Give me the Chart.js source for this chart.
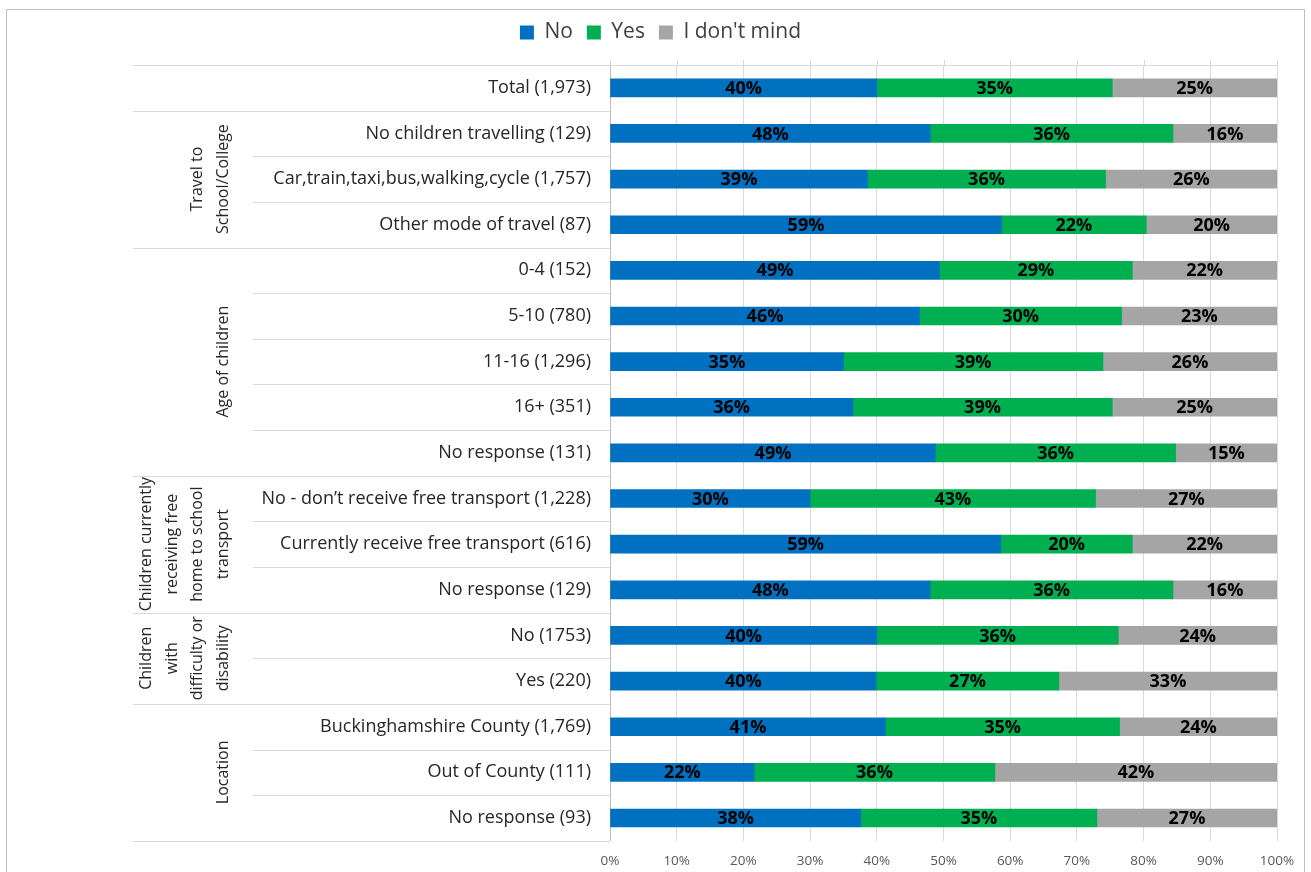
<!DOCTYPE html>
<html>
<head>
<meta charset="utf-8">
<title>Preference by group</title>
<script src="https://cdn.jsdelivr.net/npm/chart.js@4.4.1/dist/chart.umd.min.js"></script>
<style>
  html, body { margin: 0; padding: 0; background: #fff; }
  #wrap { width: 1311px; height: 872px; }
</style>
</head>
<body>
<div id="wrap"><canvas id="chart" width="1311" height="872"></canvas></div>
<script>
// Row labels, top to bottom
const categories = [
  "Total (1,973)",
  "No children travelling (129)",
  "Car,train,taxi,bus,walking,cycle (1,757)",
  "Other mode of travel (87)",
  "0-4 (152)",
  "5-10 (780)",
  "11-16 (1,296)",
  "16+ (351)",
  "No response (131)",
  "No - don\u2019t receive free transport (1,228)",
  "Currently receive free transport (616)",
  "No response (129)",
  "No (1753)",
  "Yes (220)",
  "Buckinghamshire County (1,769)",
  "Out of County (111)",
  "No response (93)"
];

// Outer grouping of the rows (lines of each rotated heading, and how many rows it spans)
const groupTitles = [
  [],
  ["Travel to", "School/College"],
  ["Age of children"],
  ["Children currently", "receiving free", "home to school", "transport"],
  ["Children", "with", "difficulty or", "disability"],
  ["Location"]
];
const groupSizes = [1, 3, 5, 3, 2, 3];

// Share of answers (%)
const noValues   = [40.0, 48.0, 38.6, 58.7, 49.4, 46.4, 35.0, 36.4, 48.8, 30.0, 58.6, 48.0, 40.0, 39.9, 41.3, 21.6, 37.6];
const yesValues  = [35.3, 36.4, 35.7, 21.7, 28.9, 30.3, 38.9, 38.9, 36.0, 42.8, 19.7, 36.4, 36.2, 27.4, 35.1, 36.1, 35.4];
const mindValues = [24.7, 15.6, 25.7, 19.6, 21.7, 23.3, 26.1, 24.7, 15.2, 27.2, 21.7, 15.6, 23.8, 32.7, 23.6, 42.3, 27.0];

const seriesNames = ["No", "Yes", "I don't mind"];
const xTicks = [0, 10, 20, 30, 40, 50, 60, 70, 80, 90, 100];

const FONT = "'Open Sans', Lato, sans-serif";
const LINE = "#d9d9d9";

// frame, row separators, rotated group headings and % labels
const decorations = {
  id: "decorations",
  afterInit(chart) {
    // leave a fixed band for the legend above the plot
    const legend = chart.legend;
    const fit = legend.fit;
    legend.fit = function () {
      fit.call(this);
      this.height = 57;
    };
  },
  beforeDraw(chart) {
    const ctx = chart.ctx;
    ctx.save();
    ctx.fillStyle = "#fff";
    ctx.fillRect(0, 0, chart.width, chart.height);
    ctx.strokeStyle = "#bfbfbf";
    ctx.lineWidth = 1;
    ctx.strokeRect(6.5, 9.5, chart.width - 13, chart.height + 10);
    ctx.restore();
  },
  afterDraw(chart) {
    const ctx = chart.ctx;
    const area = chart.chartArea;
    const y = chart.scales.y;
    const x = chart.scales.x;
    const rowH = (area.bottom - area.top) / categories.length;
    const outerLeft = 133;
    const innerLeft = 253;

    ctx.save();
    ctx.strokeStyle = LINE;
    ctx.lineWidth = 1;

    // little marks of the value grid above the plot
    xTicks.forEach(t => {
      const px = Math.round(x.getPixelForValue(t)) + 0.5;
      ctx.beginPath();
      ctx.moveTo(px, area.top - 5);
      ctx.lineTo(px, area.top);
      ctx.stroke();
    });

    // top rule runs across the plot too
    ctx.beginPath();
    ctx.moveTo(outerLeft, Math.round(area.top) + 0.5);
    ctx.lineTo(area.right, Math.round(area.top) + 0.5);
    ctx.stroke();

    let row = 0;
    groupSizes.forEach((size, g) => {
      for (let i = 1; i <= size; i++) {
        const by = Math.round(y.getPixelForValue(row + i - 1) + rowH / 2) + 0.5;
        const left = i === size ? outerLeft : innerLeft;
        ctx.beginPath();
        ctx.moveTo(left, by);
        ctx.lineTo(area.left, by);
        ctx.stroke();
      }
      const lines = groupTitles[g];
      if (lines.length) {
        const cy = (y.getPixelForValue(row) + y.getPixelForValue(row + size - 1)) / 2;
        ctx.save();
        ctx.fillStyle = "#262626";
        ctx.font = "16px " + FONT;
        ctx.textAlign = "center";
        ctx.textBaseline = "middle";
        lines.forEach((txt, k) => {
          const lx = 223 - (lines.length - 1 - k) * 25.5;
          ctx.save();
          ctx.translate(lx, cy);
          ctx.rotate(-Math.PI / 2);
          ctx.fillText(txt, 0, 0);
          ctx.restore();
        });
        ctx.restore();
      }
      row += size;
    });
    ctx.restore();
  },
  afterDatasetsDraw(chart) {
    const ctx = chart.ctx;
    ctx.save();
    ctx.fillStyle = "#000";
    ctx.font = "bold 18px " + FONT;
    ctx.textAlign = "center";
    ctx.textBaseline = "middle";
    chart.data.datasets.forEach((ds, i) => {
      chart.getDatasetMeta(i).data.forEach((bar, j) => {
        const p = bar.getProps(["x", "y", "base"], true);
        ctx.fillText(Math.round(ds.data[j]) + "%", (p.x + p.base) / 2, p.y + 1);
      });
    });
    ctx.restore();
  }
};

new Chart(document.getElementById("chart"), {
  type: "bar",
  data: {
    labels: categories,
    datasets: [
      { label: seriesNames[0], data: noValues,   backgroundColor: "#0070c0" },
      { label: seriesNames[1], data: yesValues,  backgroundColor: "#00b050" },
      { label: seriesNames[2], data: mindValues, backgroundColor: "#a5a5a5" }
    ]
  },
  options: {
    indexAxis: "y",
    responsive: false,
    animation: false,
    devicePixelRatio: 1,
    barThickness: 18,
    // the bottom value is negative to cancel the half-label margin of the row axis
    layout: { padding: { left: 44, right: 34, top: 8, bottom: -9 } },
    plugins: {
      tooltip: { enabled: false },
      legend: {
        position: "top",
        labels: {
          font: { family: FONT, size: 21 },
          color: "#404040",
          boxWidth: 14,
          boxHeight: 14,
          padding: 14
        }
      }
    },
    scales: {
      x: {
        stacked: true,
        min: 0,
        max: 100,
        afterBuildTicks: s => { s.ticks = xTicks.map(v => ({ value: v })); },
        ticks: {
          callback: v => v + "%",
          font: { family: FONT, size: 13.5 },
          color: "#595959",
          padding: 12
        },
        grid: { color: LINE, drawTicks: false },
        border: { display: false }
      },
      y: {
        stacked: true,
        afterFit: s => { s.width = 566; },
        ticks: {
          font: { family: FONT, size: 18 },
          color: "#262626",
          padding: 19
        },
        grid: { display: false, drawTicks: false },
        border: { display: true, color: "#bfbfbf" }
      }
    }
  },
  plugins: [decorations]
});
</script>
</body>
</html>
